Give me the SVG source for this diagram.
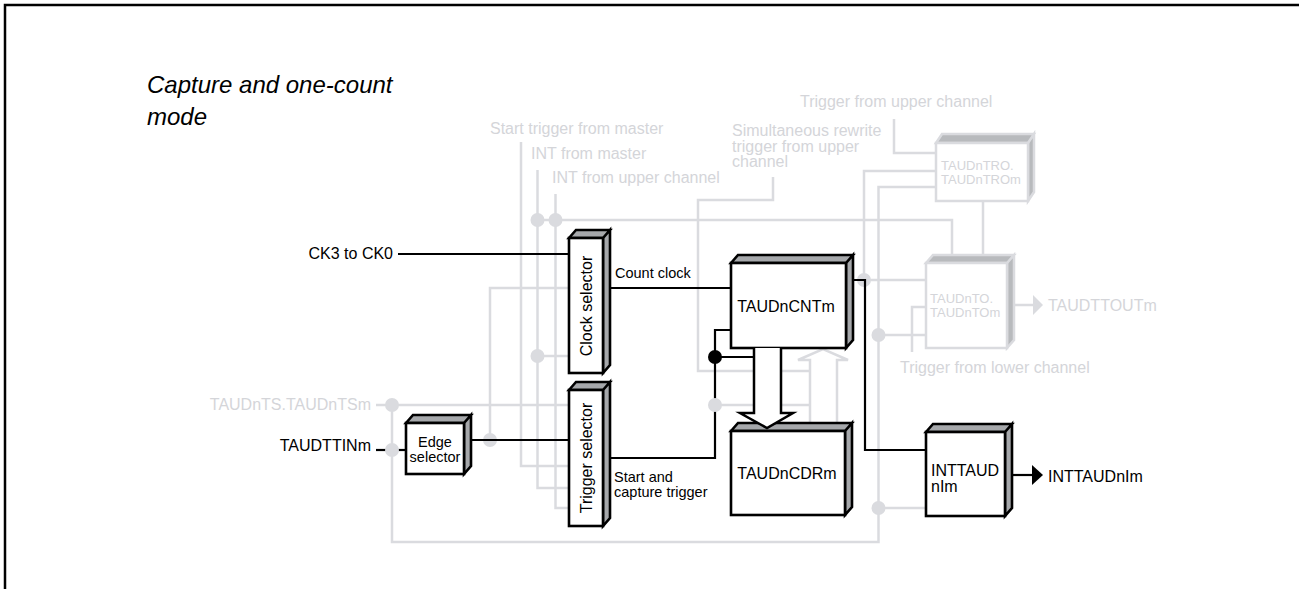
<svg xmlns="http://www.w3.org/2000/svg" width="1299" height="589" viewBox="0 0 1299 589">
<style>
.g{fill:none;stroke:#dadbdf;stroke-width:2.5}
.k{fill:none;stroke:#000;stroke-width:2.2}
.gd{fill:#dadbdf}
.t{font-family:"Liberation Sans",Arial,Helvetica,sans-serif;fill:#000}
.gt{font-family:"Liberation Sans",Arial,Helvetica,sans-serif;fill:#d4d5d9;font-size:16px}
.gs13{font-family:"Liberation Sans",Arial,Helvetica,sans-serif;fill:#d4d5d9;font-size:13px}
.bf{fill:#fff;stroke:#000;stroke-width:2.6;stroke-linejoin:miter}
.bs{fill:#a6a8ab;stroke:#000;stroke-width:2.6;stroke-linejoin:miter}
.gf{fill:#fff;stroke:#dadbdf;stroke-width:2.5}
.gs{fill:#b8babd;stroke:#dadbdf;stroke-width:2.5}
</style>
<rect width="1299" height="589" fill="#fff"/>
<path d="M5,589 V5 H1299" fill="none" stroke="#000" stroke-width="2.5"/>

<text class="t" x="147" y="93" font-size="24" font-style="italic">Capture and one-count</text>
<text class="t" x="147" y="125" font-size="24" font-style="italic">mode</text>

<g id="connectors">
  <g id="gray-lines">
    <path class="g" d="M521,142 V466 H569"/>
    <path class="g" d="M537.5,170 V488 H569"/>
    <path class="g" d="M555.5,194 V508 H569"/>
    <path class="g" d="M537.5,220 H952 V256"/>
    <path class="g" d="M537.5,356 H569"/>
    <path class="g" d="M490,440 V288 H569"/>
    <path class="g" d="M376,405 H569"/>
    <path class="g" d="M392,405 V542 H878.5 V187 H936"/>
    <path class="g" d="M878.5,335 H926"/>
    <path class="g" d="M878.5,508 H926"/>
    <path class="g" d="M936,171 H864 V280 H926"/>
    <path class="g" d="M773,177 V200 H698 V371 H810"/>
    <path class="g" d="M715,405 H810"/>
    <path class="g" d="M894,119 V153 H936"/>
    <path class="g" d="M983,201 V256"/>
    <path class="g" d="M912,352 V307 H926"/>
    <path class="g" d="M1012,305 H1034"/>
    <polygon points="1033,295 1043,305 1033,315" fill="#dadbdf"/>
    <path d="M810,424 V360 H798 L823,349 L848,360 H837 V424" fill="#fff" stroke="#dadbdf" stroke-width="2.5"/>
  </g>
  <g id="gray-dots">
    <circle class="gd" cx="537.5" cy="220" r="7"/>
    <circle class="gd" cx="555.5" cy="220" r="7"/>
    <circle class="gd" cx="537.5" cy="356" r="7"/>
    <circle class="gd" cx="490" cy="440" r="7"/>
    <circle class="gd" cx="392" cy="405" r="7"/>
    <circle class="gd" cx="864" cy="280" r="7"/>
    <circle class="gd" cx="878.5" cy="335" r="7"/>
    <circle class="gd" cx="878.5" cy="508" r="7"/>
  </g>
  <g id="black-lines">
    <path class="k" d="M398,254 H569"/>
    <path class="k" d="M610,288 H731"/>
    <path class="k" d="M610,458 H715 V330 H731"/>
    <path class="k" d="M715,357 H754"/>
    <path class="k" d="M853,280 H865 V450 H926"/>
    <path class="k" d="M376,450 H406"/>
    <path class="k" d="M471,440 H569"/>
    <path class="k" d="M1012,475 H1034"/>
    <polygon points="1032,465 1043,475 1032,485" fill="#000"/>
    <circle cx="715" cy="357" r="7" fill="#000"/>
  </g>
  <circle class="gd" cx="715" cy="405" r="7"/>
  <circle class="gd" cx="392" cy="450" r="7"/>
</g>

<g id="clock-selector">
  <path class="bs" d="M569,238 L576,230 H610 L603,238 Z M603,238 L610,230 V365 L603,373 Z"/>
  <rect class="bf" x="569" y="238" width="34" height="135"/>
  <text class="t" font-size="16" text-anchor="middle" transform="translate(592,306) rotate(-90)">Clock selector</text>
</g>

<g id="trigger-selector">
  <path class="bs" d="M569,390 L576,382 H610 L603,390 Z M603,390 L610,382 V518 L603,526 Z"/>
  <rect class="bf" x="569" y="390" width="34" height="136"/>
  <text class="t" font-size="16" text-anchor="middle" transform="translate(592,458) rotate(-90)">Trigger selector</text>
</g>

<g id="edge-selector">
  <path class="bs" d="M406,423 L413,415 H471 L464,423 Z M464,423 L471,415 V466 L464,474 Z"/>
  <rect class="bf" x="406" y="423" width="58" height="51"/>
  <text class="t" font-size="14.5" text-anchor="middle" x="435" y="447">Edge</text>
  <text class="t" font-size="14.5" text-anchor="middle" x="435" y="462">selector</text>
</g>

<g id="cnt">
  <path class="bs" d="M731,263 L738,255 H853 L846,263 Z M846,263 L853,255 V340 L846,348 Z"/>
  <rect class="bf" x="731" y="263" width="115" height="85"/>
  <text class="t" font-size="16" text-anchor="middle" x="786" y="312">TAUDnCNTm</text>
</g>

<g id="cdr">
  <path class="bs" d="M731,431 L738,423 H852 L845,431 Z M845,431 L852,423 V507 L845,515 Z"/>
  <rect class="bf" x="731" y="431" width="114" height="84"/>
  <text class="t" font-size="16" text-anchor="middle" x="787" y="479">TAUDnCDRm</text>
</g>

<g id="capture-arrow">
  <path d="M754,348 V413 H740 L767,428 L793,413 H781 V348" fill="#fff" stroke="#000" stroke-width="2.5"/>
</g>

<g id="inttaud">
  <path class="bs" d="M926,432 L933,424 H1012 L1005,432 Z M1005,432 L1012,424 V508 L1005,516 Z"/>
  <rect class="bf" x="926" y="432" width="79" height="84"/>
  <text class="t" font-size="16" x="931" y="476">INTTAUD</text>
  <text class="t" font-size="16" x="931" y="492">nIm</text>
</g>

<g id="tro">
  <path class="gs" d="M936,143 L942,134 H1034 L1028,143 Z M1028,143 L1034,134 V192 L1028,201 Z"/>
  <rect class="gf" x="936" y="143" width="92" height="58"/>
  <text class="gs13" x="941" y="170">TAUDnTRO.</text>
  <text class="gs13" x="941" y="183.5">TAUDnTROm</text>
</g>

<g id="to">
  <path class="gs" d="M926,263 L933,255 H1014 L1007,263 Z M1007,263 L1014,255 V340 L1007,348 Z"/>
  <rect class="gf" x="926" y="263" width="81" height="85"/>
  <text class="gs13" x="930" y="303">TAUDnTO.</text>
  <text class="gs13" x="930" y="316.5">TAUDnTOm</text>
</g>

<g id="labels">
  <text class="t" font-size="16" text-anchor="end" x="393" y="259">CK3 to CK0</text>
  <text class="t" font-size="16" text-anchor="end" x="371" y="451">TAUDTTINm</text>
  <text class="gt" text-anchor="end" x="371" y="410">TAUDnTS.TAUDnTSm</text>
  <text class="t" font-size="14.5" x="615" y="278">Count clock</text>
  <text class="t" font-size="14.5" x="614" y="482">Start and</text>
  <text class="t" font-size="14.5" x="614" y="497">capture trigger</text>
  <text class="t" font-size="16" x="1048" y="482">INTTAUDnIm</text>
  <text class="gt" x="490" y="134">Start trigger from master</text>
  <text class="gt" x="531" y="159">INT from master</text>
  <text class="gt" x="552" y="183">INT from upper channel</text>
  <text class="gt" x="732" y="136">Simultaneous rewrite</text>
  <text class="gt" x="732" y="151.5">trigger from upper</text>
  <text class="gt" x="732" y="167">channel</text>
  <text class="gt" x="800" y="107">Trigger from upper channel</text>
  <text class="gt" x="1048" y="311">TAUDTTOUTm</text>
  <text class="gt" x="900" y="373">Trigger from lower channel</text>
</g>
</svg>
